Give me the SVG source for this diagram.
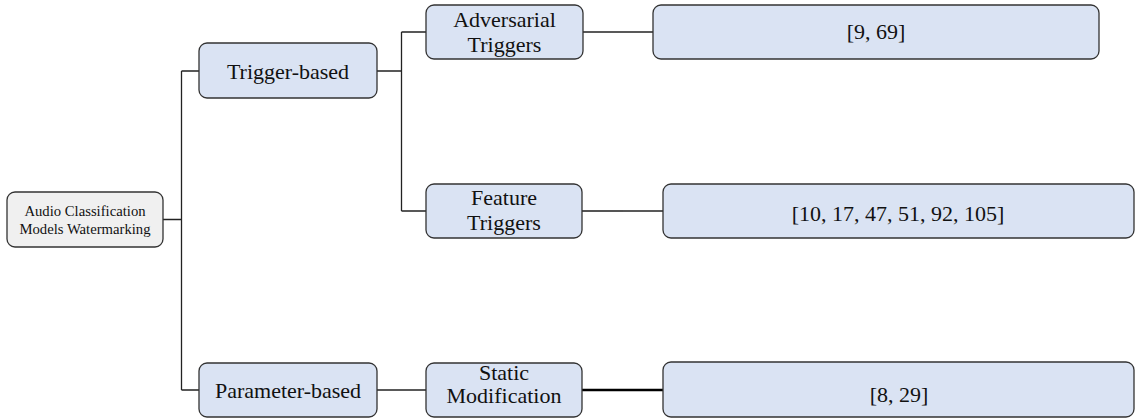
<svg xmlns="http://www.w3.org/2000/svg" width="1136" height="420" viewBox="0 0 1136 420">
  <style>
    .box { fill: #dae3f3; stroke: #333333; stroke-width: 1.3; }
    .root { fill: #f0f0f0; stroke: #333333; stroke-width: 1.3; }
    .lbl { font-family: 'Liberation Serif', Tinos, 'Times New Roman', 'DejaVu Serif', serif; font-size: 22px; fill: #111111; text-anchor: middle; }
    .small { font-size: 14.7px; }
    .ref { font-size: 22px; }
    .edge { fill: none; stroke: #222222; stroke-width: 1.3; }
    .edge-bold { fill: none; stroke: #000000; stroke-width: 2.3; }
    .edge-grey { fill: none; stroke: #555555; stroke-width: 2; }
  </style>
  <rect width="1136" height="420" fill="#ffffff"/>

  <!-- connectors -->
  <g id="connectors">
    <path class="edge" d="M163,219.5 H181.5 M181.5,71 V390 M181.5,71 H199 M181.5,390 H199"/>
    <path class="edge" d="M377,71 H401.5 M401.5,32 V211 M401.5,32 H426 M401.5,211 H426"/>
    <path class="edge" d="M583,32 H653"/>
    <path class="edge-grey" d="M582,211 H623"/>
    <path class="edge" d="M623,211 H663"/>
    <path class="edge" d="M377,390 H426"/>
    <path class="edge-bold" d="M582,390 H663"/>
  </g>

  <!-- root -->
  <g id="root">
    <rect class="root" x="7" y="192" width="156" height="55" rx="8"/>
    <text class="lbl small" x="85" y="216">Audio Classification</text>
    <text class="lbl small" x="85" y="234">Models Watermarking</text>
  </g>

  <!-- level 1 -->
  <g id="trigger-based">
    <rect class="box" x="199" y="43" width="178" height="55" rx="8"/>
    <text class="lbl" x="288" y="79">Trigger-based</text>
  </g>
  <g id="parameter-based">
    <rect class="box" x="199" y="363" width="178" height="54" rx="8"/>
    <text class="lbl" x="288" y="398">Parameter-based</text>
  </g>

  <!-- level 2 -->
  <g id="adversarial-triggers">
    <rect class="box" x="426" y="5" width="157" height="54" rx="8"/>
    <text class="lbl" x="504.5" y="27">Adversarial</text>
    <text class="lbl" x="504.5" y="52">Triggers</text>
  </g>
  <g id="feature-triggers">
    <rect class="box" x="426" y="184" width="156" height="54" rx="8"/>
    <text class="lbl" x="504" y="205">Feature</text>
    <text class="lbl" x="504" y="230">Triggers</text>
  </g>
  <g id="static-modification">
    <rect class="box" x="426" y="363" width="156" height="54" rx="8"/>
    <text class="lbl" x="504" y="380">Static</text>
    <text class="lbl" x="504" y="403">Modification</text>
  </g>

  <!-- level 3: references -->
  <g id="refs-adversarial">
    <rect class="box" x="653" y="5" width="446" height="54" rx="8"/>
    <text class="lbl ref" x="876" y="39">[9, 69]</text>
  </g>
  <g id="refs-feature">
    <rect class="box" x="663" y="184" width="471" height="54" rx="8"/>
    <text class="lbl ref" x="898" y="221">[10, 17, 47, 51, 92, 105]</text>
  </g>
  <g id="refs-static">
    <rect class="box" x="663" y="362" width="471" height="55" rx="8"/>
    <text class="lbl ref" x="899" y="402">[8, 29]</text>
  </g>
</svg>
